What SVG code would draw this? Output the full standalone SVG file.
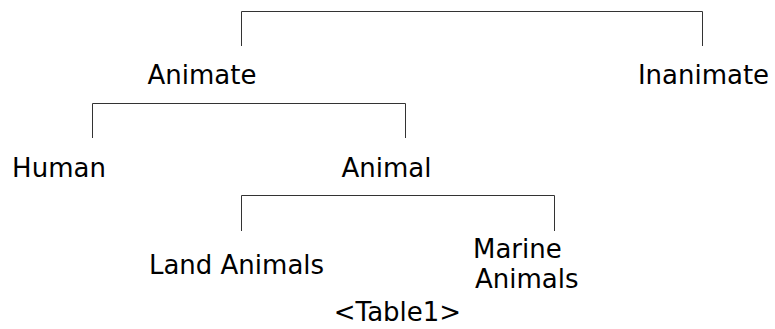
<svg xmlns="http://www.w3.org/2000/svg" width="775" height="329" viewBox="0 0 775 329">
<style>
.t{font-family:"DejaVu Sans",sans-serif;font-size:26px;fill:#000}
.c{text-anchor:middle}
.l{fill:none;stroke:#333;stroke-width:1}
</style>
<rect width="775" height="329" fill="#fff"/>
<g id="connectors">
<path class="l" d="M241.5 46V11.5H702.5V46"/>
<path class="l" d="M92.5 138V103.5H405.5V138"/>
<path class="l" d="M241.5 231V195.5H554.5V231"/>
</g>
<g id="animate"><text class="t c" x="202" y="84">Animate</text></g>
<g id="inanimate"><text class="t c" x="703.5" y="84">Inanimate</text></g>
<g id="human"><text class="t c" x="59" y="177">Human</text></g>
<g id="animal"><text class="t c" x="386.5" y="177">Animal</text></g>
<g id="land"><text class="t c" x="236.5" y="274">Land Animals</text></g>
<g id="marine"><text class="t" x="473" y="258">Marine</text><text class="t" x="475" y="288">Animals</text></g>
<g id="caption"><text class="t c" x="397.5" y="321">&lt;Table1&gt;</text></g>
</svg>
